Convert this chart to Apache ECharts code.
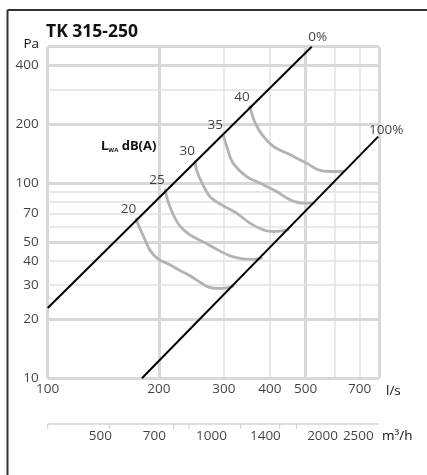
<!DOCTYPE html>
<html><head><meta charset="utf-8">
<script src="https://cdn.jsdelivr.net/npm/echarts@6/dist/echarts.min.js"></script>
<style>html,body{margin:0;padding:0;background:#fff}#c{width:427px;height:475px}</style>
</head><body><div id="c"></div>
<script>
// ---- data ----
const levels = [20, 25, 30, 35, 40];
const curve20 = [[174,65.6],[176,61.1],[182,53.2],[189,45.5],[199,40.9],[215,38.1],[228,35.7],[243,33.5],[259,31.0],[272,29.4],[286,28.9],[302,29.0],[317,29.6]];
const curve25 = [[208,92.4],[212,80.2],[219,68.8],[228,60.4],[243,54.3],[264,50.0],[286,46.0],[312,42.4],[338,40.9],[358,40.7],[379,41.3]];
const curve30 = [[251,129],[253,117],[262,100],[275,85.4],[296,77.4],[325,70.2],[353,62.4],[384,57.6],[409,56.5],[448,57.6]];
const curve35 = [[299,176.9],[305.5,154],[318,126.6],[346,108.1],[376,100],[417,90.6],[454,82.1],[493,79],[527,79]];
const curve40 = [[353,246],[365,203],[384,173.4],[409,154],[454,139.7],[503,126.6],[541,117],[582,114.7],[631,114.7]];
const curves = [curve20, curve25, curve30, curve35, curve40];
const line0 = [[100,22.9],[519,500]];
const line100 = [[180,10],[786,173]];
const lineNames = ['0%', '100%'];

const xGrid = [100,200,300,400,500,600,700,790];
const xMajor = [100,200,500,790];
const yGrid = [10,20,30,40,50,60,70,80,90,100,200,300,400,500];
const yMajor = [10,20,50,100,200,400,500];
const xLabels = [100,200,300,400,500,700];
const yLabels = [10,20,30,40,50,70,100,200,400];
const m3hLabels = [500,700,1000,1400,2000,2500];
const m3hTicks = [360,530,790,870,1200,1530,1700];
const xMin = 100, xMax = 790, yMin = 10, yMax = 500;
const m3hMin = 360, m3hMax = 2844;

// ---- chart ----
const FONT = '"Open Sans", "Noto Sans", sans-serif';
const TXT = '#111';
const FS = 13.5;
const chart = echarts.init(document.getElementById('c'), null, {renderer: 'canvas'});

const gridLineData = [
  ...xGrid.map(v => ({xAxis: v, lineStyle: {width: xMajor.includes(v) ? 3 : 1.5, color: xMajor.includes(v) ? '#d8d8d8' : '#e2e2e2', type: 'solid'}})),
  ...yGrid.map(v => ({yAxis: v, lineStyle: {width: yMajor.includes(v) ? 3 : 1.5, color: yMajor.includes(v) ? '#d8d8d8' : '#e2e2e2', type: 'solid'}}))
];

const series = [
  {
    type: 'line', xAxisIndex: 0, yAxisIndex: 0, data: [[xMin, yMin]], showSymbol: false,
    lineStyle: {opacity: 0, type: 'solid'}, z: 0, silent: true,
    markLine: {silent: true, z: 0, symbol: ['none','none'], animation: false, label: {show: false},
      lineStyle: {type: 'solid', color: '#e2e2e2', width: 1.5}, data: gridLineData}
  },
  ...curves.map(c => ({
    type: 'line', xAxisIndex: 0, yAxisIndex: 0, data: c, smooth: 0.35, showSymbol: false,
    lineStyle: {color: '#b3b3b3', width: 2.8, type: 'solid', cap: 'round', join: 'round'}, z: 6, silent: true
  })),
  {type: 'line', xAxisIndex: 0, yAxisIndex: 0, data: line0, showSymbol: false, lineStyle: {color: '#000', width: 2, type: 'solid'}, z: 7, silent: true},
  {type: 'line', xAxisIndex: 0, yAxisIndex: 0, data: line100, showSymbol: false, lineStyle: {color: '#000', width: 2, type: 'solid'}, z: 7, silent: true},
  // level labels at start of each curve
  {
    type: 'scatter', xAxisIndex: 0, yAxisIndex: 0, symbolSize: 0, clip: false, silent: true, z: 8,
    data: levels.map((lv, i) => ({name: String(lv), value: curves[i][0]})),
    label: {show: true, formatter: '{b}', position: 'top', distance: 3, offset: [-8, 0], fontFamily: FONT, fontSize: FS, color: TXT}
  },
  // 0% / 100% labels
  {
    type: 'scatter', xAxisIndex: 0, yAxisIndex: 0, symbolSize: 0, clip: false, silent: true, z: 8,
    data: [
      {name: lineNames[0], value: line0[line0.length - 1], label: {offset: [6, 0], distance: 3}},
      {name: lineNames[1], value: line100[line100.length - 1], label: {offset: [8, 0], distance: 0}}
    ],
    label: {show: true, formatter: '{b}', position: 'top', fontFamily: FONT, fontSize: FS, color: TXT}
  },
  // x labels (l/s)
  {
    type: 'scatter', xAxisIndex: 0, yAxisIndex: 0, symbolSize: 0, clip: false, silent: true, z: 8,
    data: xLabels.map(v => [v, yMin]),
    label: {show: true, formatter: p => String(p.value[0]), position: 'bottom', distance: 4, fontFamily: FONT, fontSize: FS, color: TXT}
  },
  // y labels (Pa)
  {
    type: 'scatter', xAxisIndex: 0, yAxisIndex: 0, symbolSize: 0, clip: false, silent: true, z: 8,
    data: yLabels.map(v => [xMin, v]),
    label: {show: true, formatter: p => String(p.value[1]), position: 'left', distance: 9, fontFamily: FONT, fontSize: FS, color: TXT}
  },
  // m3/h axis line
  {
    type: 'line', xAxisIndex: 1, yAxisIndex: 1, data: [[m3hMin, 0]], showSymbol: false, lineStyle: {opacity: 0, type: 'solid'}, silent: true, z: 0,
    markLine: {silent: true, z: 0, symbol: ['none','none'], animation: false, label: {show: false},
      lineStyle: {type: 'solid', color: '#d4d4d4', width: 1.5},
      data: [{yAxis: 0, lineStyle: {color: '#d4d4d4', width: 1.5, type: 'solid'}}]}
  },
  // m3/h ticks
  {
    type: 'scatter', xAxisIndex: 1, yAxisIndex: 1, clip: false, silent: true, z: 2,
    symbol: 'rect', symbolSize: [1.2, 5], symbolOffset: [0, 2.5],
    itemStyle: {color: '#c8c8c8'},
    data: m3hTicks.map(v => [v, 0])
  },
  // m3/h labels
  {
    type: 'scatter', xAxisIndex: 1, yAxisIndex: 1, symbolSize: 0, clip: false, silent: true, z: 8,
    data: m3hLabels.map(v => [v, 0]),
    label: {show: true, formatter: p => String(p.value[0]), position: 'bottom', distance: 5, fontFamily: FONT, fontSize: FS, color: TXT}
  }
];

chart.setOption({
  animation: false,
  backgroundColor: '#fff',
  grid: [
    {left: 47.7, right: 48, top: 46.7, bottom: 96.7},
    {left: 47.7, right: 48, top: 404, height: 20}
  ],
  xAxis: [
    {type: 'log', logBase: 10, min: xMin, max: xMax, gridIndex: 0, show: false},
    {type: 'log', logBase: 10, min: m3hMin, max: m3hMax, gridIndex: 1, show: false}
  ],
  yAxis: [
    {type: 'log', logBase: 10, min: yMin, max: yMax, gridIndex: 0, show: false},
    {type: 'value', min: 0, max: 1, gridIndex: 1, show: false}
  ],
  series: series,
  graphic: [
    {type: 'line', shape: {x1: 7.5, y1: 10, x2: 427, y2: 10}, style: {stroke: '#333', lineWidth: 2}, silent: true},
    {type: 'line', shape: {x1: 7.5, y1: 10, x2: 7.5, y2: 475}, style: {stroke: '#333', lineWidth: 2}, silent: true},
    {type: 'text', x: 46, y: 32, silent: true, style: {text: 'TK 315-250', font: 'bold 17.5px ' + FONT, fill: TXT, verticalAlign: 'middle'}},
    {type: 'text', x: 39, y: 44, silent: true, style: {text: 'Pa', font: FS + 'px ' + FONT, fill: TXT, align: 'right', verticalAlign: 'middle'}},
    {type: 'text', x: 386, y: 391, silent: true, style: {text: 'l/s', font: FS + 'px ' + FONT, fill: TXT, verticalAlign: 'middle'}},
    {type: 'text', x: 382, y: 436, silent: true, style: {text: 'm³/h', font: FS + 'px ' + FONT, fill: TXT, verticalAlign: 'middle'}},
    {type: 'text', x: 101, y: 145, silent: true, style: {
      text: '{l|L}{s|WA}{d| dB(A)}', verticalAlign: 'middle', fill: TXT,
      rich: {
        l: {fontFamily: FONT, fontWeight: 'bold', fontSize: 13, lineHeight: 16, verticalAlign: 'bottom', fill: TXT},
        s: {fontFamily: FONT, fontWeight: 'bold', fontSize: 6, lineHeight: 10, verticalAlign: 'bottom', fill: TXT},
        d: {fontFamily: FONT, fontWeight: 'bold', fontSize: 13, lineHeight: 16, verticalAlign: 'bottom', fill: TXT}
      }
    }}
  ]
});
</script>
</body></html>
